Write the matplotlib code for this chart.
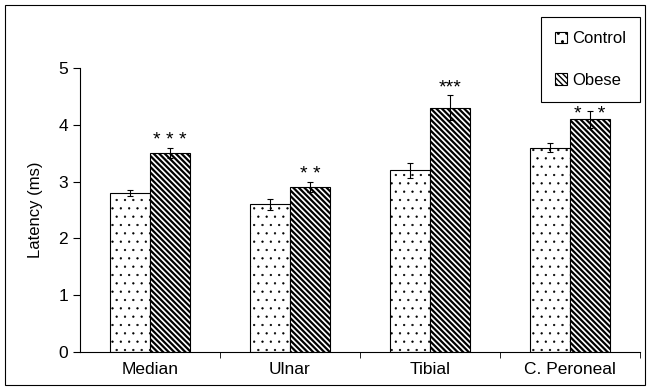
import matplotlib.pyplot as plt
from matplotlib.patches import Rectangle
import numpy as np

plt.rcParams["font.family"] = ["Liberation Sans", "DejaVu Sans"]

nerves = ["Median", "Ulnar", "Tibial", "C. Peroneal"]
control = [2.8, 2.6, 3.2, 3.6]
control_err = [0.06, 0.1, 0.13, 0.08]
obese = [3.5, 2.9, 4.3, 4.1]
obese_err = [0.09, 0.09, 0.22, 0.15]
stars = ["* * *", "* *", "***", "*   *"]
star_gap = [-0.02, -0.02, -0.02, -0.22]

fig = plt.figure(figsize=(6.47, 3.88), dpi=100)
ax = fig.add_axes([80 / 647, 36 / 388, 560 / 647, 284 / 388])

x = np.arange(len(nerves))
w = 0.285
err_style = dict(ecolor="black", elinewidth=0.8, capsize=2.5, capthick=0.8)
b1 = ax.bar(x - w / 2, control, w, yerr=control_err, color="white", edgecolor="black",
            hatch="..", linewidth=0.8, label="Control", error_kw=err_style)
b2 = ax.bar(x + w / 2, obese, w, yerr=obese_err, color="white", edgecolor="black",
            hatch="\\\\\\\\\\\\", linewidth=0.8, label="Obese", error_kw=err_style)
for p in b1:
    p.set_hatch_linewidth(0.4)
for p in b2:
    p.set_hatch_linewidth(1.6)

for xi, v, e, s, g in zip(x, obese, obese_err, stars, star_gap):
    ax.text(xi + w / 2, v + e + g, s, ha="center", va="bottom", fontsize=14, zorder=6)

ax.set_xlim(-0.5, 3.5)
ax.set_ylim(0, 5)
ax.set_yticks(range(6))
ax.set_xticks(x)
ax.set_xticklabels(nerves)
ax.set_xticks([0.5, 1.5, 2.5, 3.5], minor=True)
ax.tick_params(axis="x", which="major", length=0, labelsize=12.5, pad=7)
ax.tick_params(axis="x", which="minor", length=4, direction="out")
ax.tick_params(axis="y", labelsize=12.5, length=5)
ax.set_ylabel("Latency (ms)", fontsize=12, labelpad=11)
for side in ["top", "right"]:
    ax.spines[side].set_visible(False)

leg = ax.legend(loc="upper right", bbox_to_anchor=(640 / 647, 1 - 17 / 388),
                bbox_transform=fig.transFigure, fontsize=12, fancybox=False,
                edgecolor="black", framealpha=1, handlelength=0.7,
                handleheight=0.7, handletextpad=0.3, labelspacing=1.6,
                borderpad=0.85, borderaxespad=0)
leg.get_frame().set_linewidth(0.8)

fig.patches.append(Rectangle((5 / 647, 3 / 388), 640 / 647, 380 / 388,
                             transform=fig.transFigure, fill=False,
                             edgecolor="black", linewidth=0.8))

fig.savefig("out.png", dpi=100)
